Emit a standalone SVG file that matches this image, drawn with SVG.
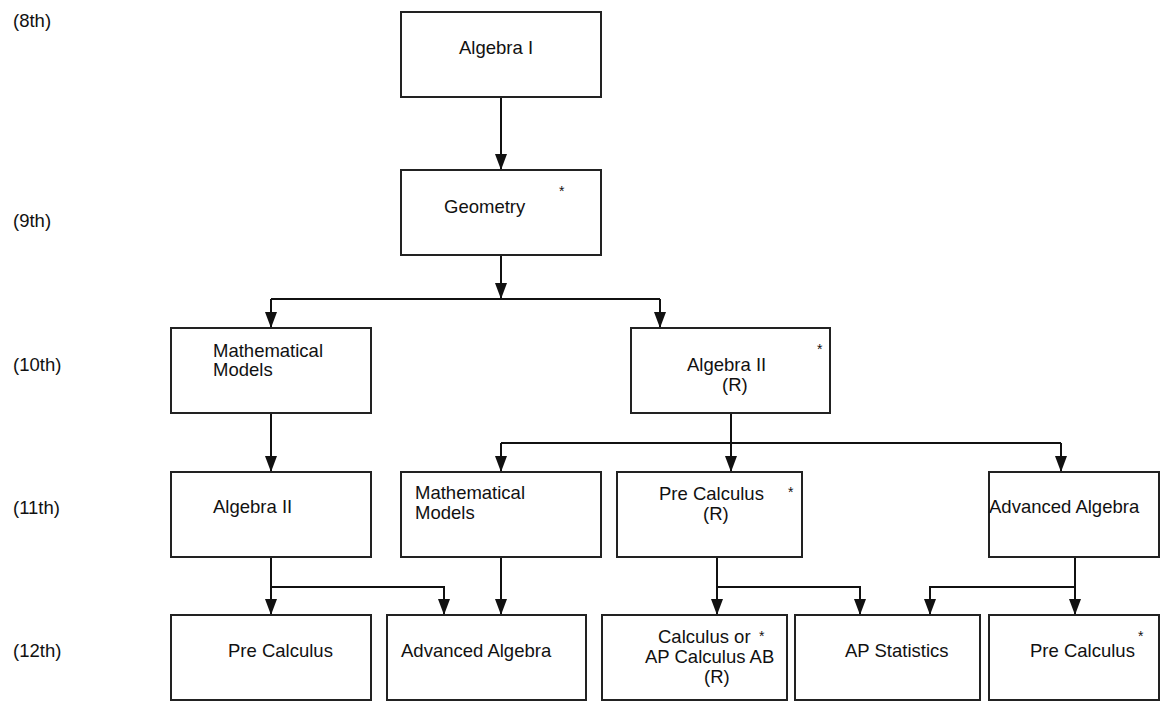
<svg xmlns="http://www.w3.org/2000/svg" width="1162" height="703" viewBox="0 0 1162 703">
<style>
.box{fill:#fff;stroke:#222;stroke-width:2}
.t{font-family:"Liberation Sans",Arial,sans-serif;font-size:18.5px;fill:#111}
.s{font-family:"Liberation Sans",Arial,sans-serif;font-size:14px;fill:#111}
.c{fill:none;stroke:#111;stroke-width:2}
</style>
<defs>
<marker id="arr" viewBox="0 0 16 12" refX="16" refY="6" markerWidth="16" markerHeight="12" markerUnits="userSpaceOnUse" orient="auto">
<path d="M0,0 L16,6 L0,12 z" fill="#111"/>
</marker>
</defs>
<rect width="1162" height="703" fill="#fff"/>
<g id="grades">
<text class="t" x="13" y="27">(8th)</text>
<text class="t" x="13" y="227">(9th)</text>
<text class="t" x="13" y="371">(10th)</text>
<text class="t" x="13" y="514">(11th)</text>
<text class="t" x="13" y="657">(12th)</text>
</g>
<g id="connectors">
<path class="c" d="M501,97 V170" marker-end="url(#arr)"/>
<path class="c" d="M501,255 V299" marker-end="url(#arr)"/>
<path class="c" d="M271,299 H660"/>
<path class="c" d="M271,299 V328" marker-end="url(#arr)"/>
<path class="c" d="M660,299 V328" marker-end="url(#arr)"/>
<path class="c" d="M271,413 V472" marker-end="url(#arr)"/>
<path class="c" d="M731,413 V472" marker-end="url(#arr)"/>
<path class="c" d="M501,443 H1061"/>
<path class="c" d="M501,443 V472" marker-end="url(#arr)"/>
<path class="c" d="M1061,443 V472" marker-end="url(#arr)"/>
<path class="c" d="M271,557 V615" marker-end="url(#arr)"/>
<path class="c" d="M271,587 H444 V615" marker-end="url(#arr)"/>
<path class="c" d="M501,557 V615" marker-end="url(#arr)"/>
<path class="c" d="M717,557 V615" marker-end="url(#arr)"/>
<path class="c" d="M717,587 H860 V615" marker-end="url(#arr)"/>
<path class="c" d="M1075,557 V615" marker-end="url(#arr)"/>
<path class="c" d="M1075,587 H930 V615" marker-end="url(#arr)"/>
</g>
<g id="algebra1"><rect class="box" x="401" y="12" width="200" height="85"/><text class="t" x="459" y="54">Algebra I</text></g>
<g id="geometry"><rect class="box" x="401" y="170" width="200" height="85"/><text class="t" x="444" y="213">Geometry</text><text class="s" x="559" y="196">*</text></g>
<g id="mathmodels10"><rect class="box" x="171" y="328" width="200" height="85"/><text class="t" x="213" y="357">Mathematical</text><text class="t" x="213" y="376">Models</text></g>
<g id="algebra2r"><rect class="box" x="631" y="328" width="199" height="85"/><text class="t" x="687" y="371">Algebra II</text><text class="t" x="722" y="391">(R)</text><text class="s" x="817" y="354">*</text></g>
<g id="algebra2"><rect class="box" x="171" y="472" width="200" height="85"/><text class="t" x="213" y="513">Algebra II</text></g>
<g id="mathmodels11"><rect class="box" x="401" y="472" width="200" height="85"/><text class="t" x="415" y="499">Mathematical</text><text class="t" x="415" y="519">Models</text></g>
<g id="precalcr"><rect class="box" x="617" y="472" width="185" height="85"/><text class="t" x="659" y="500">Pre Calculus</text><text class="t" x="703" y="520">(R)</text><text class="s" x="788" y="497">*</text></g>
<g id="advalg11"><rect class="box" x="989" y="472" width="170" height="85"/><text class="t" x="989" y="513">Advanced Algebra</text></g>
<g id="precalc12"><rect class="box" x="171" y="615" width="200" height="85"/><text class="t" x="228" y="657">Pre Calculus</text></g>
<g id="advalg12"><rect class="box" x="387" y="615" width="199" height="85"/><text class="t" x="401" y="657">Advanced Algebra</text></g>
<g id="calculus"><rect class="box" x="602" y="615" width="185" height="85"/><text class="t" x="658" y="643">Calculus or</text><text class="s" x="759" y="641">*</text><text class="t" x="645" y="663">AP Calculus AB</text><text class="t" x="704" y="683">(R)</text></g>
<g id="apstats"><rect class="box" x="795" y="615" width="185" height="85"/><text class="t" x="845" y="657">AP Statistics</text></g>
<g id="precalc12r"><rect class="box" x="989" y="615" width="170" height="85"/><text class="t" x="1030" y="657">Pre Calculus</text><text class="s" x="1138" y="641">*</text></g>
</svg>
